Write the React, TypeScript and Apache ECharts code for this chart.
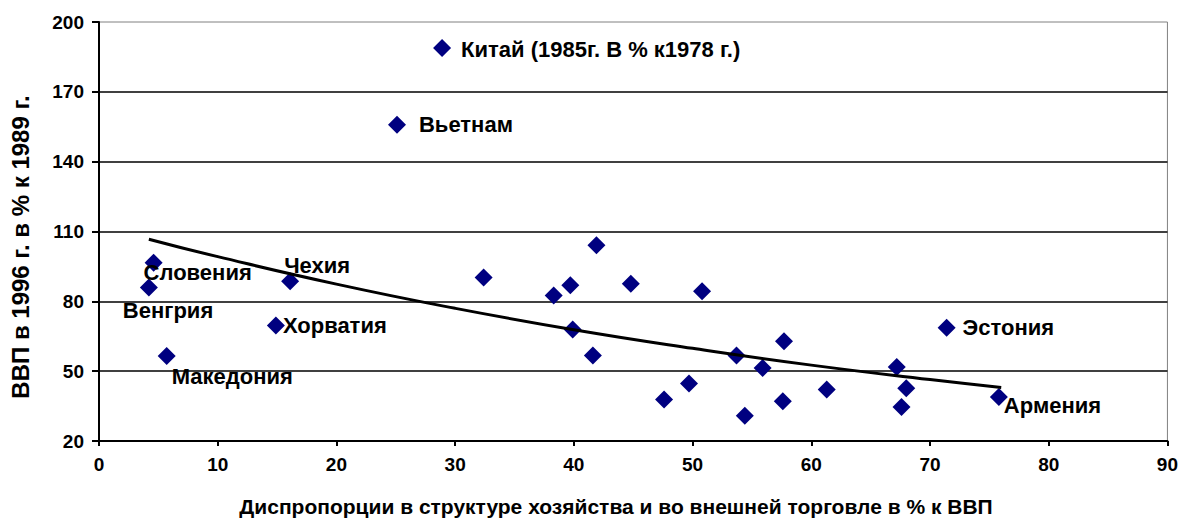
import React, { useEffect, useRef } from "react";
import * as echarts from "echarts";

// ---- data ----
const xValues = [4.6, 4.2, 16.1, 14.9, 5.7, 28.9, 25.1, 32.4, 41.9, 38.3, 39.7, 44.8, 50.8, 39.9, 41.6, 57.7, 53.7, 55.9, 49.7, 47.6, 54.4, 57.6, 71.4, 67.2, 61.3, 68.0, 67.6, 75.8];
const yValues = [96.6, 85.9, 88.6, 69.6, 56.5, 188.8, 155.9, 90.2, 104.1, 82.5, 86.9, 87.6, 84.3, 67.9, 56.7, 62.8, 56.7, 51.4, 44.7, 37.8, 30.9, 37.1, 68.7, 51.8, 42.1, 42.7, 34.6, 38.9];
const pointNames = [
  "Словения", "Венгрия", "Чехия", "Хорватия", "Македония",
  "Китай (1985г. В % к1978 г.)", "Вьетнам",
  "", "", "", "", "", "", "", "", "", "", "", "", "", "", "",
  "Эстония", "", "", "", "", "Армения",
];
// exponential trend line at several x
const trendX = [4.2, 10, 20, 30, 40, 50, 60, 70, 76];
const trendY = [106.7, 99.2, 87.4, 77.0, 67.8, 59.8, 52.6, 46.4, 43.0];

const xTicks = { min: 0, max: 90, interval: 10 };
const yTicks = { min: 20, max: 200, interval: 30 };
const xTitle = "Диспропорции в структуре хозяйства и во внешней торговле в % к ВВП";
const yTitle = "ВВП в 1996 г. в % к 1989 г.";

// ---- styles (label placement relative to the marker centre) ----
const labelOffsets: Record<string, [number, number]> = {
  "Словения": [-10, 10],
  "Венгрия": [-26, 23],
  "Чехия": [-6, -16],
  "Хорватия": [7, 0],
  "Македония": [5, 20],
  "Китай (1985г. В % к1978 г.)": [19, 1],
  "Вьетнам": [22, 0],
  "Эстония": [16, 0],
  "Армения": [5, 8],
};

const FONT = "'Liberation Sans', Arial, sans-serif";

export default function App() {
  const ref = useRef<HTMLDivElement>(null);
  useEffect(() => {
    if (!ref.current) return;
    const chart = echarts.init(ref.current, undefined, { renderer: "svg" });
    const scatterData = xValues.map((x, i) => {
      const name = pointNames[i];
      const item: any = { value: [x, yValues[i]], name };
      if (name) {
        const off = labelOffsets[name] || [12, 0];
        item.label = {
          show: true,
          formatter: name,
          position: "inside",
          align: "left",
          verticalAlign: "middle",
          offset: off,
          color: "#000",
          textBorderWidth: 0,
          fontFamily: FONT,
          fontWeight: "bold",
          fontSize: 22,
        };
      }
      return item;
    });
    const trendData = trendX.map((x, i) => [x, trendY[i]]);
    chart.setOption({
      animation: false,
      backgroundColor: "#fff",
      grid: {
        left: 99,
        top: 22,
        right: 12,
        bottom: 85,
        show: true,
        borderColor: "#808080",
        borderWidth: 1,
        backgroundColor: "transparent",
      },
      xAxis: {
        type: "value",
        min: xTicks.min,
        max: xTicks.max,
        interval: xTicks.interval,
        axisLine: { show: true, onZero: false, lineStyle: { color: "#000", width: 2 } },
        axisTick: { show: true, length: 5, lineStyle: { color: "#000", width: 2 } },
        axisLabel: { color: "#000", fontFamily: FONT, fontWeight: "bold", fontSize: 19, margin: 14 },
        splitLine: { show: false },
      },
      yAxis: {
        type: "value",
        min: yTicks.min,
        max: yTicks.max,
        interval: yTicks.interval,
        axisLine: { show: true, onZero: false, lineStyle: { color: "#000", width: 2 } },
        axisTick: { show: true, length: 7, lineStyle: { color: "#000", width: 2 } },
        axisLabel: { color: "#000", fontFamily: FONT, fontWeight: "bold", fontSize: 19, margin: 15 },
        splitLine: { show: true, showMinLine: false, showMaxLine: false, lineStyle: { color: "#000", width: 1.5 } },
      },
      series: [
        {
          type: "scatter",
          data: scatterData,
          symbol: "diamond",
          symbolSize: [18, 18],
          itemStyle: { color: "#000080", opacity: 1 },
          z: 2,
        },
        {
          type: "line",
          data: trendData,
          smooth: true,
          symbol: "none",
          lineStyle: { color: "#000", width: 3 },
          z: 3,
          silent: true,
        },
      ],
      graphic: [
        {
          type: "text",
          x: 616,
          y: 506,
          style: {
            text: xTitle,
            fill: "#000",
            font: `bold 21px ${FONT}`,
            textAlign: "center",
            textVerticalAlign: "middle",
          },
        },
        {
          type: "text",
          x: 20,
          y: 247,
          rotation: Math.PI / 2,
          style: {
            text: yTitle,
            fill: "#000",
            font: `bold 24px ${FONT}`,
            textAlign: "center",
            textVerticalAlign: "middle",
          },
        },
      ],
    });
    return () => chart.dispose();
  }, []);
  return (
    <div
      ref={ref}
      style={{ position: "fixed", left: 0, top: 0, width: 1181, height: 526, background: "#fff" }}
    />
  );
}
